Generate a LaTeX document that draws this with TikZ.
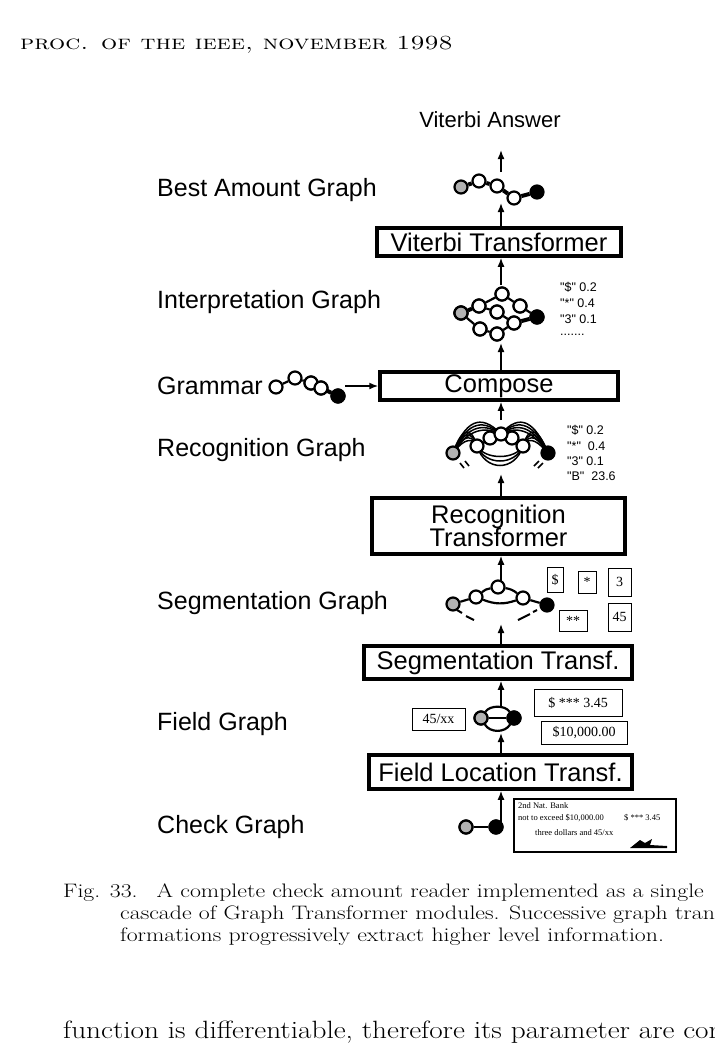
\documentclass[tikz,border=0pt]{standalone}
\usepackage{fontspec}
\usetikzlibrary{arrows.meta}
\newfontfamily\hv{Liberation Sans}
\newfontfamily\tm{Liberation Serif}
\begin{document}
\begin{tikzpicture}[x=1pt,y=-1pt,
  lab/.style={anchor=west,font=\hv\fontsize{25}{27}\selectfont,inner sep=0},
  box/.style={draw,line width=3.5pt,font=\hv\fontsize{25.5}{26}\selectfont,inner sep=0,align=center},
  sbox/.style={draw,line width=0.8pt,font=\tm\fontsize{14}{15}\selectfont,inner sep=0},
  sc/.style={anchor=west,font=\hv\fontsize{12.5}{13}\selectfont,inner sep=0},
  ar/.style={-{Latex[length=9pt,width=7pt]},line width=1.6pt},
  w/.style={circle,draw,line width=2.2pt,fill=white,minimum size=13pt,inner sep=0},
  g/.style={w,fill=gray!60},
  b/.style={w,fill=black},
  e/.style={line width=2.2pt},
  te/.style={line width=4pt},
  captxt/.style={anchor=west,inner sep=0,font=\fontsize{19.5}{21}\selectfont}]
\useasboundingbox (0,0) rectangle (715,1045);
\fill[white] (0,0) rectangle (715,1045);
\node[anchor=west,inner sep=0] (hdr) at (20,45) {\scalebox{1.27}[1]{\fontsize{20}{22}\selectfont\textsc{proc. of the ieee, november 1998}}};
% labels
\node[font=\hv\fontsize{22}{24}\selectfont,inner sep=0] (va) at (490,120) {Viterbi Answer};
\node[lab] (l1) at (157,190) {Best Amount Graph};
\node[lab] (l2) at (157,302) {Interpretation Graph};
\node[lab] (l3) at (157,386) {Grammar};
\node[lab] (l4) at (157,450) {Recognition Graph};
\node[lab] (l5) at (157,603) {Segmentation Graph};
\node[lab] (l6) at (157,724) {Field Graph};
\node[lab] (l7) at (157,827) {Check Graph};
% boxes
\node[box,minimum width=244pt,minimum height=28pt] (vt) at (499,242) {\raisebox{-2pt}{Viterbi Transformer}};
\node[box,minimum width=238pt,minimum height=28pt] (co) at (499,386) {\raisebox{-2pt}{Compose}};
\node[box,minimum width=253pt,minimum height=56pt] (rt) at (498.5,526) {Recognition\\[-3pt]Transformer};
\node[box,minimum width=268pt,minimum height=33pt] (st) at (498,662.5) {\raisebox{-2pt}{Segmentation Transf.}};
\node[box,minimum width=263pt,minimum height=34pt] (ft) at (500.5,772) {\raisebox{-2pt}{Field Location Transf.}};
% arrows
\coordinate (a1) at (501,172); \coordinate (a1t) at (501,150);
\draw[ar] (a1) -- (a1t);
\coordinate (a2) at (501,226); \coordinate (a2t) at (501,203);
\draw[ar] (vt.north -| a2) -- (a2t);
\coordinate (a3) at (501,285);
\draw[ar] (a3) -- (vt.south -| a3);
\coordinate (a4) at (501,348);
\draw[ar] (co.north -| a4) -- (501,343);
\coordinate (a5) at (501,420);
\draw[ar] (a5) -- (co.south -| a5);
\draw[ar] (rt.north -| a5) -- (501,474);
\coordinate (a6) at (501,582);
\draw[ar] (a6) -- (rt.south -| a6);
\draw[ar] (st.north -| a6) -- (501,624);
\coordinate (a7) at (501,706);
\draw[ar] (a7) -- (st.south -| a7);
\draw[ar] (ft.north -| a7) -- (501,733);
\coordinate (a8) at (501,823);
\draw[ar] (a8) -- (ft.south -| a8);
% best amount graph
\node[g] (b1) at (461,187) {}; \node[w] (b2) at (479,181) {}; \node[w] (b3) at (497,186) {};
\node[w] (b4) at (514,198) {}; \node[b] (b5) at (537,192) {};
\draw[te] (b1)--(b2)--(b3)--(b4)--(b5);
% interpretation graph
\node[g] (i0) at (461,313) {}; \node[w] (i1) at (479,306) {}; \node[w] (i2) at (502,294) {};
\node[w] (i3) at (520,306) {}; \node[b] (i9) at (537,317) {};
\node[w] (i4) at (497,312) {}; \node[w] (i5) at (514,323) {};
\node[w] (i6) at (480,329) {}; \node[w] (i7) at (497,334) {};
\draw[e] (i0)--(i1)--(i2)--(i3)--(i9);
\draw[e] (i1)--(i4)--(i5);
\draw[te] (i0)--(i1); \draw[te] (i5)--(i9);
\draw[e] (i0)--(i6)--(i7)--(i5);
\foreach \n in {i0,i1,i2,i3,i4,i5,i6,i7}{\node[w,fill=white] at (\n) {};}
\node[g] at (i0) {}; \node[b] at (i9) {};
\node[sc] (s1) at (560,287) {"\$" 0.2};
\node[sc] (s2) at (560,303) {"*" 0.4};
\node[sc] (s3) at (560,319) {"3" 0.1};
\node[sc] (s4) at (560,335) {.......};
% grammar
\node[w] (g1) at (276,387) {}; \node[w] (g2) at (295,378) {}; \node[w] (g3) at (311,383) {};
\node[w] (g4) at (321,388) {}; \node[b] (g5) at (338,396) {};
\draw[e] (g1)--(g2)--(g3)--(g4)--(g5);
\draw[te] (g3)--(g5);
\node[w] at (g3) {}; \node[w] at (g4) {}; \node[b] at (g5) {};
\draw[ar] (345,386) -- (co.west);
% recognition graph
\coordinate (r0) at (453,453); \coordinate (r1) at (477,446); \coordinate (r2) at (501,434);
\coordinate (r3) at (523,446); \coordinate (r4) at (548,453);
\foreach \d in {-8,-4,0,4}{
  \draw[line width=1.5pt] (r0) .. controls (460,440+\d) and (470,430+\d) .. (r1);
  \draw[line width=1.5pt] (r3) .. controls (530,430+\d) and (540,440+\d) .. (r4);
  \draw[line width=1.5pt] (r0) .. controls (465,430+\d) and (480,420+\d) .. (r2);
  \draw[line width=1.5pt] (r2) .. controls (520,420+\d) and (535,430+\d) .. (r4);
}
\foreach \d in {0,6,12}{
  \draw[line width=1.5pt] (r1) .. controls (485,460+\d) and (515,460+\d) .. (r3);}
\draw[e] (r1) -- (r2) -- (r3);
\node[w] (rn5) at (490,438) {}; \node[w] (rn6) at (512,438) {};
\node[w] (rn1) at (r1) {}; \node[w] (rn3) at (r3) {};
\node[w] (rn2) at (r2) {};
\node[g] (rn0) at (r0) {}; \node[b] (rn4) at (r4) {};
\draw[line width=1.6pt] (460,463)--(464,468) (465,461)--(469,466);
\draw[line width=1.6pt] (534,466)--(539,461) (538,468)--(543,463);
\node[sc] (t1) at (567,430) {"\$" 0.2};
\node[sc] (t2) at (567,446) {"*"\ \ 0.4};
\node[sc] (t3) at (567,461) {"3" 0.1};
\node[sc] (t4) at (567,476) {"B"\ \ 23.6};
% segmentation graph
\node[g] (q0) at (453,604) {}; \node[w] (q1) at (476,597) {}; \node[w] (q2) at (498,587) {};
\node[w] (q3) at (523,598) {}; \node[b] (q4) at (547,605) {};
\draw[e] (q0)--(q1) (q3)--(q4);
\draw[e] (q1) to[bend left=15] (q2); \draw[e] (q2) to[bend left=15] (q3);
\draw[e] (q1) to[bend right=20] (q3);
\draw[line width=2pt] (457,610)--(462,613) (466,616)--(474,620);
\draw[line width=2pt] (518,620)--(530,614) (533,612)--(537,610);
\node[sbox,minimum width=16pt,minimum height=25pt] (x1) at (555,579.5) {\$};
\node[sbox,minimum width=18pt,minimum height=22pt] (x2) at (587,582) {*};
\node[sbox,minimum width=23pt,minimum height=28pt] (x3) at (619.5,582) {3};
\node[sbox,minimum width=28pt,minimum height=21pt] (x4) at (573,620.5) {**};
\node[sbox,minimum width=23pt,minimum height=28pt] (x5) at (619.5,617) {45};
% field graph
\node[g] (f0) at (481,718) {}; \node[b] (f1) at (514,718) {};
\draw[e] (f0)--(f1);
\draw[e] (f0) .. controls (490,705) and (505,705) .. (f1);
\draw[e] (f0) .. controls (490,733) and (505,733) .. (f1);
\node[g] at (f0) {}; \node[b] at (f1) {};
\node[sbox,minimum width=53pt,minimum height=22pt] (y1) at (438.5,719) {45/xx};
\node[sbox,minimum width=88pt,minimum height=27pt] (y2) at (578,702.5) {\$ *** 3.45};
\node[sbox,minimum width=86pt,minimum height=23pt] (y3) at (584,732.5) {\$10,000.00};
% check graph
\node[g] (c0) at (466,827) {}; \node[b] (c1) at (496,827) {};
\draw[e] (c0)--(c1); \node[g] at (c0) {}; \node[b] at (c1) {};
\node[draw,line width=2.3pt,minimum width=162pt,minimum height=53pt,inner sep=0] (ck) at (595,825.5) {};
\begin{scope}[every node/.style={font=\tm\fontsize{8.5}{9}\selectfont,inner sep=0,anchor=west}]
\node (k1) at (518,806) {2nd Nat. Bank};
\node (k2) at (518,818) {not to exceed \$10,000.00};
\node (k3) at (535,833) {three dollars and 45/xx};
\node (k4) at (624,818) {\$ *** 3.45};
\end{scope}
\fill (630,848) -- (640,840) -- (645,843) -- (652,839) -- (650,845) -- (667,846) -- (667,848) -- cycle;
% caption
\node[captxt] (cap1) at (63,893) {\scalebox{1.22}[1]{Fig. 33.\hspace{0.8em}A complete check amount reader implemented as a single}};
\node[captxt] (cap2) at (120,915) {\scalebox{1.22}[1]{cascade of Graph Transformer modules. Successive graph trans-}};
\node[captxt] (cap3) at (120,937) {\scalebox{1.22}[1]{formations progressively extract higher level information.}};
\node[captxt] (cap4) at (63,1032) {\scalebox{1.17}[1]{\fontsize{25}{28}\selectfont function is differentiable, therefore its parameter are computed}};
\end{tikzpicture}
\end{document}
